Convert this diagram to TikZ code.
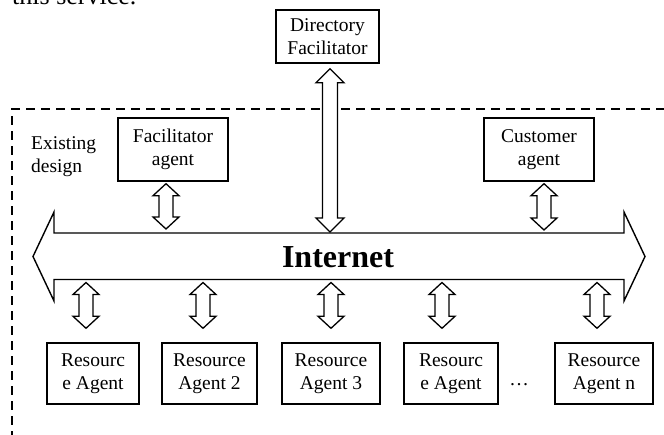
\documentclass[tikz,border=0pt]{standalone}
\usepackage{fontspec}
\setmainfont{Liberation Serif}
\usetikzlibrary{calc}
\newcommand\boxfont{\fontsize{19.5}{23}\selectfont}
\tikzset{
  box/.style={draw, line width=1.4pt, inner sep=0pt, align=center, font=\boxfont},
  resbox/.style={box, minimum height=61pt},
  dblarr/.style={draw, fill=white, line width=1.3pt, line join=miter},
  frame/.style={line width=1.3pt, dash pattern=on 9pt off 6pt},
}
% #1 top tip, #2 bottom tip (y only), #3 head half width, #4 shaft half width, #5 head length
\newcommand\vdarrow[5]{%
  \draw[dblarr] let \p1=(#1), \p2=(#2) in
    (\x1,\y1) -- (\x1+#3pt,\y1-#5pt) -- (\x1+#4pt,\y1-#5pt) -- (\x1+#4pt,\y2+#5pt)
    -- (\x1+#3pt,\y2+#5pt) -- (\x1,\y2) -- (\x1-#3pt,\y2+#5pt) -- (\x1-#4pt,\y2+#5pt)
    -- (\x1-#4pt,\y1-#5pt) -- (\x1-#3pt,\y1-#5pt) -- cycle;}
\begin{document}
\begin{tikzpicture}[x=1pt,y=1pt]
\useasboundingbox (0,0) rectangle (664,435);
\fill[white] (0,0) rectangle (664,435);

% partially visible body text above the figure
\node[anchor=base west, inner sep=0pt, font=\fontsize{26}{30}\selectfont] (bodytext) at (12,430) {this service.};

% dashed frame of the existing design
\draw[frame] (12,-5) -- (12,326) -- (670,326);

% boxes
\node[box, minimum width=103pt, minimum height=53pt] (df) at (327.5,398.5) {Directory\\Facilitator};
\node[box, minimum width=110pt, minimum height=63pt] (fac) at (173,285.5) {Facilitator\\agent};
\node[box, minimum width=110pt, minimum height=63pt] (cust) at (539,285.5) {Customer\\agent};
\node[anchor=west, inner sep=0pt, align=left, font=\boxfont] (exist) at (31,278) {Existing\\design};

\node[resbox, minimum width=92pt] (r1) at (93,61.5) {Resourc\\e Agent};
\node[resbox, minimum width=95pt] (r2) at (209.5,61.5) {Resource\\Agent 2};
\node[resbox, minimum width=98pt] (r3) at (331,61.5) {Resource\\Agent 3};
\node[resbox, minimum width=94pt] (r4) at (451,61.5) {Resourc\\e Agent};
\node[resbox, minimum width=98pt] (r5) at (604,61.5) {Resource\\Agent n};
\node[inner sep=0pt, font=\boxfont] (dots) at (519,50) {\ldots};

% Internet double arrow
\coordinate (itop) at (0,202);
\coordinate (ibot) at (0,155.5);
\draw[dblarr, line width=1.4pt] (33,178.5) -- (54,223) -- (54,202) -- (624,202) -- (624,223) -- (645,178.5)
  -- (624,134) -- (624,155.5) -- (54,155.5) -- (54,134) -- cycle;
\node[inner sep=0pt, font=\fontsize{32}{36}\selectfont\bfseries] (inet) at (338,177.5) {Internet};

% connectors
\vdarrow{$(df.south)+(2.5,-5)$}{$(itop)+(0,1)$}{14}{7.5}{14}
\vdarrow{$(fac.south)+(-7,-2)$}{$(itop)+(0,4)$}{13}{7}{12}
\vdarrow{$(cust.south)+(5,-2)$}{$(itop)+(0,3)$}{13}{7}{12}
\vdarrow{$(r1.north |- ibot)+(-7,-3)$}{$(r1.north)+(0,14)$}{13}{7}{12}
\vdarrow{$(r2.north |- ibot)+(-6.5,-3)$}{$(r2.north)+(0,14)$}{13}{7}{12}
\vdarrow{$(r3.north |- ibot)+(0,-3)$}{$(r3.north)+(0,14)$}{13}{7}{12}
\vdarrow{$(r4.north |- ibot)+(-9,-3)$}{$(r4.north)+(0,14)$}{13}{7}{12}
\vdarrow{$(r5.north |- ibot)+(-7,-3)$}{$(r5.north)+(0,14)$}{13}{7}{12}
\end{tikzpicture}
\end{document}
